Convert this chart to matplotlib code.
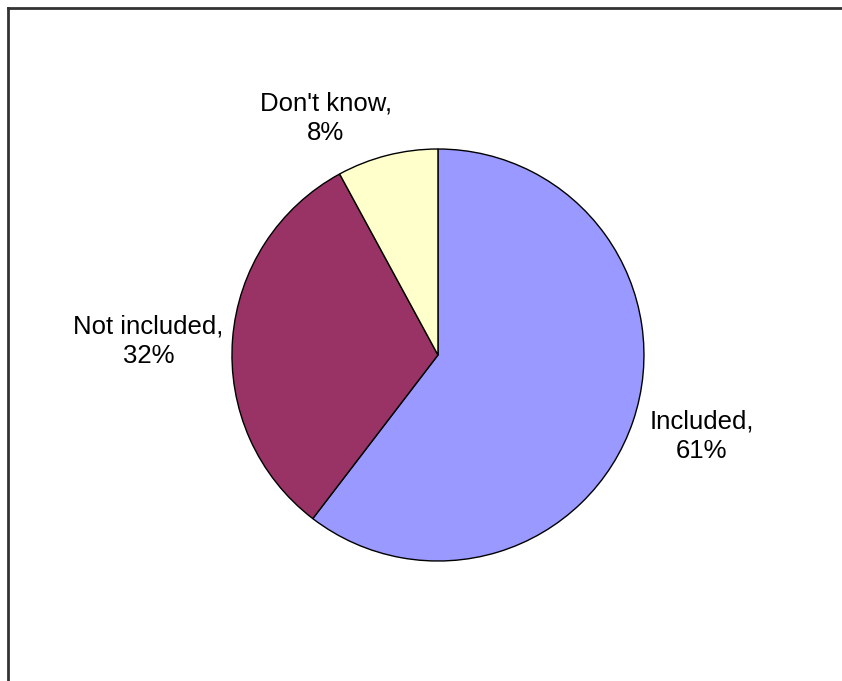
import matplotlib
matplotlib.use('Agg')
import matplotlib.pyplot as plt
from matplotlib.lines import Line2D

labels = ['Included', 'Not included', "Don't know"]
values = [61, 32, 8]
colors = ['#9999FF', '#993366', '#FFFFCC']

plt.rcParams['font.family'] = ['Liberation Sans', 'DejaVu Sans']

fig = plt.figure(figsize=(8.42, 6.81), dpi=100)
fig.patch.set_facecolor('white')

# top and left border only
fig.add_artist(Line2D([8/842, 1], [1 - 8/681, 1 - 8/681], color='#333333', lw=2))
fig.add_artist(Line2D([8/842, 8/842], [0, 1 - 8/681], color='#333333', lw=2))

ax = fig.add_axes([0.2755, 0.1762, 0.4893, 0.605])
ax.pie(values, colors=colors, startangle=90, counterclock=False,
       wedgeprops={'edgecolor': 'black', 'linewidth': 1})
ax.set_xlim(-1, 1)
ax.set_ylim(-1, 1)
ax.set_aspect('auto')

label_pos = [(1.28, -0.393), (-1.405, 0.068), (-0.544, 1.15)]
for lab, v, (x, y) in zip(labels, values, label_pos):
    ax.text(x, y, f'{lab},\n{v}%', ha='center', va='center', fontsize=18.5,
            linespacing=1.3, clip_on=False)

plt.savefig('out.png', dpi=100)
